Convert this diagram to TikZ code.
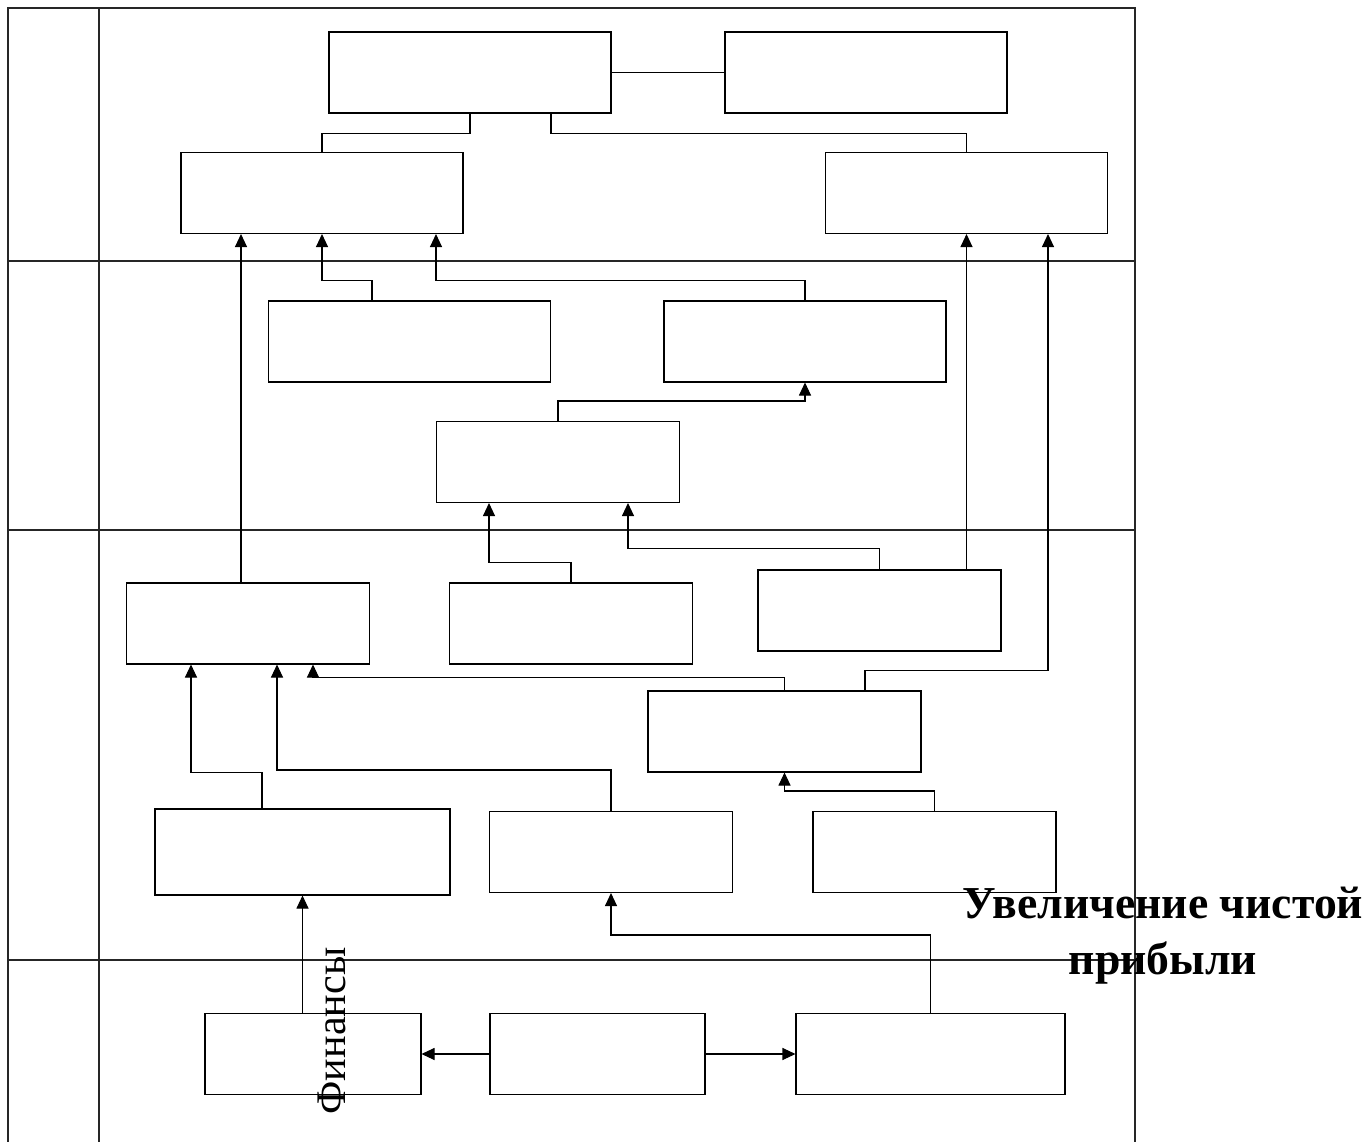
\documentclass[tikz,border=0pt]{standalone}
\usepackage{fontspec}
\setmainfont{Liberation Serif}
\usetikzlibrary{arrows.meta}

\begin{document}
\begin{tikzpicture}[
    box/.style={rectangle,draw=black,line width=0.6pt,inner sep=0pt,minimum height=1.62cm},
    wide/.style={box,minimum width=5.64cm},
    narrow/.style={box,minimum width=4.86cm},
    link/.style={line width=0.6pt},
    arrow/.style={-{Triangle[length=2.6mm,width=2.4mm]},line width=0.6pt},
    grid/.style={line width=0.6pt,draw=black!85},
    caption/.style={font=\fontsize{24}{29}\selectfont},
    title/.style={font=\fontsize{26}{32}\selectfont\bfseries,align=center}
  ]
    \useasboundingbox (0,0) rectangle (27.28,-22.84);

    \draw[grid] (0.16,-22.84) -- (0.16,-0.16) -- (22.70,-0.16) -- (22.70,-22.84);
    \draw[grid] (1.98,-0.16) -- (1.98,-22.84);
    \foreach \y in {5.22,10.60,19.20}
      \draw[grid] (0.16,-\y) -- (22.70,-\y);

    \node[wide] (a1) at (9.40,-1.45) {};
    \node[wide] (a2) at (17.32,-1.45) {};
    \node[wide] (a3) at (6.44,-3.86) {};
    \node[wide] (a4) at (19.33,-3.86) {};

    \node[wide] (b1) at (8.19,-6.83) {};
    \node[wide] (b2) at (16.10,-6.83) {};
    \node[narrow] (b3) at (11.16,-9.24) {};

    \node[narrow] (c1) at (4.96,-12.47) {};
    \node[narrow] (c2) at (11.42,-12.47) {};
    \node[narrow] (c3) at (17.59,-12.21) {};
    \node[box,minimum width=5.46cm] (c4) at (15.69,-14.63) {};
    \node[box,minimum width=5.90cm,minimum height=1.72cm] (c5) at (6.05,-17.04) {};
    \node[narrow] (c6) at (12.22,-17.04) {};
    \node[narrow] (c7) at (18.69,-17.04) {};

    \node[box,minimum width=4.32cm] (d1) at (6.26,-21.08) {};
    \node[box,minimum width=4.30cm] (d2) at (11.95,-21.08) {};
    \node[box,minimum width=5.38cm] (d3) at (18.61,-21.08) {};

    \node[caption,rotate=90] (fin) at (6.64,-20.62) {Финансы};
    \node[title] (goal) at (23.26,-18.72) {Увеличение чистой\\прибыли};

    \draw[link] (a1) -- (a2);
    \draw[link] (a1.south) -- ++(0,-0.4) -| (a3.north);
    \draw[link] ([xshift=1.62cm]a1.south) -- ++(0,-0.4) -| (a4.north);

    \draw[arrow] ([xshift=-0.75cm]b1.north) -- ++(0,0.4) -| (a3.south);
    \draw[arrow] (b2.north) -- ++(0,0.4) -| ([xshift=2.28cm]a3.south);
    \draw[arrow] (b3.north) -- ++(0,0.4) -| (b2.south);

    \draw[arrow] ([xshift=-0.14cm]c1.north) -- ([xshift=-0.14cm]c1.north |- a3.south);
    \draw[arrow] (c2.north) -- ++(0,0.4) -| ([xshift=-1.38cm]b3.south);
    \draw[arrow] (c3.north) -- ++(0,0.42) -| ([xshift=1.40cm]b3.south);
    \draw[arrow] (c3.north -| a4.south) -- (a4.south);
    \draw[arrow] (c4.north) -- ++(0,0.26) -| ([xshift=1.30cm]c1.south);
    \draw[arrow] ([xshift=1.61cm]c4.north) -- ++(0,0.4) -| ([xshift=1.63cm]a4.south);
    \draw[arrow] ([xshift=-0.81cm]c5.north) -- ++(0,0.72) -| ([xshift=-1.14cm]c1.south);
    \draw[arrow] (c6.north) -- ++(0,0.82) -| ([xshift=0.58cm]c1.south);
    \draw[arrow] (c7.north) -- ++(0,0.4) -| (c4.south);

    \draw[arrow] (d1.north -| c5.south) -- (c5.south);
    \draw[arrow] (d2) -- (d1);
    \draw[arrow] (d2) -- (d3);
    \draw[arrow] (d3.north) -- ++(0,1.56) -| (c6.south);
  \end{tikzpicture}
\end{document}
